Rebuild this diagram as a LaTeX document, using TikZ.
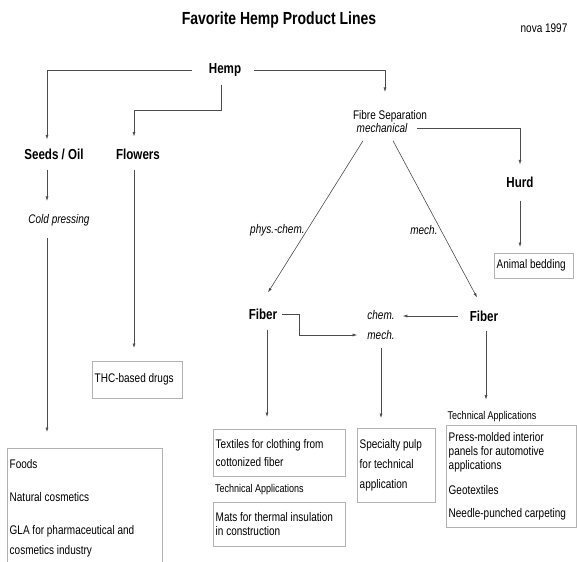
\documentclass[tikz,border=0pt]{standalone}
\usepackage{fontspec}
\setmainfont{Liberation Sans}[FakeStretch=0.8]
\usetikzlibrary{arrows.meta, positioning}
\hyphenpenalty=10000
\exhyphenpenalty=10000
\definecolor{linegray}{gray}{0.3}
\definecolor{boxgray}{gray}{0.7}
\tikzset{%
  base/.style = {inner sep = 0pt, font = \fontsize{12.5}{14}\selectfont},
  Head/.style = {base, font = \bfseries\fontsize{14.5}{16}\selectfont},
  How/.style = {base, font = \itshape\fontsize{12.5}{14}\selectfont},
  Note/.style = {base, font = \fontsize{11.25}{13}\selectfont},
  Product/.style = {base, rectangle, draw = boxgray, anchor = north west, align = flush left, inner xsep = 2.5pt, inner ysep = 0pt},
  arrow/.style = {->, draw = linegray, line width = 0.6pt}
}

\begin{document}
\begin{tikzpicture}[x=1pt, y=-1pt, >={Latex[width=3pt, length=4.5pt]}]
    \useasboundingbox (0,0) rectangle (577,561);
    \node[base, font = \bfseries\fontsize{17.5}{19}\selectfont] at (279,20) (Title) {Favorite Hemp Product Lines};
    \node[base, font = \fontsize{12.5}{14}\selectfont] at (544,28) (Nova) {nova 1997};
    \node[Head] at (225,70) (Hemp) {Hemp};
    \node[Head] at (54,154) (Seeds) {Seeds / Oil};
    \node[Head] at (138,154) (Flowers) {Flowers};
    \node[How] at (59,220) (Cold) {Cold pressing};
    \node[base] at (390,116) (FibreSep) {Fibre Separation};
    \node[How] at (382,128) (Mechanical) {mechanical};
    \node[Head] at (520,182) (Hurd) {Hurd};
    \node[Head] at (263,314) (FiberL) {Fiber};
    \node[Head] at (484,316) (FiberR) {Fiber};
    \node[How, align = center] at (381,325) (ChemMech) {chem.\\[6pt]mech.};
    \node[Note, anchor = west] at (215,490) (TechL) {Technical Applications};
    \node[Note] at (492,417) (TechR) {Technical Applications};

    \node[Product, text width = 150pt, minimum height = 120pt] at (7,448) (Foods) {Foods\\[19pt]Natural cosmetics\\[19pt]GLA for pharmaceutical and\\[6pt]cosmetics industry};
    \node[Product, text width = 85pt, minimum height = 37pt] at (92,361) (THC) {THC-based drugs};
    \node[Product, text width = 74pt, minimum height = 25pt] at (494,253) (Bedding) {Animal bedding};
    \node[Product, text width = 127pt, minimum height = 47pt] at (213,429) (Textiles) {Textiles for clothing from\\[4pt]cottonized fiber};
    \node[Product, text width = 127pt, minimum height = 44pt] at (213,502) (Mats) {Mats for thermal insulation\\in construction};
    \node[Product, text width = 73pt, minimum height = 74pt] at (357,428) (Pulp) {Specialty pulp\\[6pt]for technical\\[6pt]application};
    \node[Product, text width = 125pt, minimum height = 102pt] at (446,425) (Press) {Press-molded interior\\panels for automotive\\applications\\[11pt]Geotextiles\\[9pt]Needle-punched carpeting};

    \draw[arrow, shorten <=17pt, shorten >=9pt] (Hemp.west) -| ([xshift=-7pt]Seeds.north);
    \draw[arrow, shorten <=13pt, shorten >=18pt] (Hemp.east) -| ([xshift=-5pt]FibreSep.north);
    \draw[arrow, shorten <=8pt, shorten >=12pt] ([xshift=-4pt]Hemp.south) -- ++(0,34) -| ([xshift=-4pt]Flowers.north);
    \draw[arrow, shorten <=10pt, shorten >=13pt] ([xshift=-7pt]Seeds.south) -- ([xshift=-12pt]Cold.north);
    \draw[arrow, shorten <=12pt, shorten >=16pt] ([xshift=-12pt]Cold.south) -- ([xshift=-12pt]Cold.south |- Foods.north);
    \draw[arrow, shorten <=10pt, shorten >=13pt] ([xshift=-4pt]Flowers.south) -- ([xshift=-4pt]Flowers.south |- THC.north);
    \draw[arrow, shorten <=10pt, shorten >=12pt] (Mechanical.east) -| (Hurd.north);
    \draw[arrow, shorten <=13pt, shorten >=6pt] (Hurd.south) -- (Hurd.south |- Bedding.north);
    \draw[arrow] ([xshift=-19pt, yshift=-8pt]Mechanical.south) -- node[How, pos=.59, left=2pt] (PhysChem) {phys.-chem.} ([xshift=5pt, yshift=16pt]FiberL.north);
    \draw[arrow] ([xshift=11pt, yshift=-8pt]Mechanical.south) -- node[How, pos=.57, left=3pt] (Mech) {mech.} ([xshift=-7pt, yshift=13pt]FiberR.north);
    \draw[arrow, shorten <=5pt, shorten >=10pt] (FiberL.east) -- ++(21.5,0) |- ([yshift=-10pt]ChemMech.west);
    \draw[arrow, shorten <=12pt, shorten >=8pt] (FiberR.west) -- (FiberR.west -| ChemMech.east);
    \draw[arrow, shorten <=10pt, shorten >=12pt] ([xshift=4pt]FiberL.south) -- ([xshift=4pt]FiberL.south |- Textiles.north);
    \draw[arrow, shorten <=8pt, shorten >=10pt] (ChemMech.south) -- (ChemMech.south |- Pulp.north);
    \draw[arrow, shorten <=9pt, shorten >=12pt] ([xshift=2pt]FiberR.south) -- ([xshift=2pt]FiberR.south |- TechR.north);
\end{tikzpicture}
\end{document}
